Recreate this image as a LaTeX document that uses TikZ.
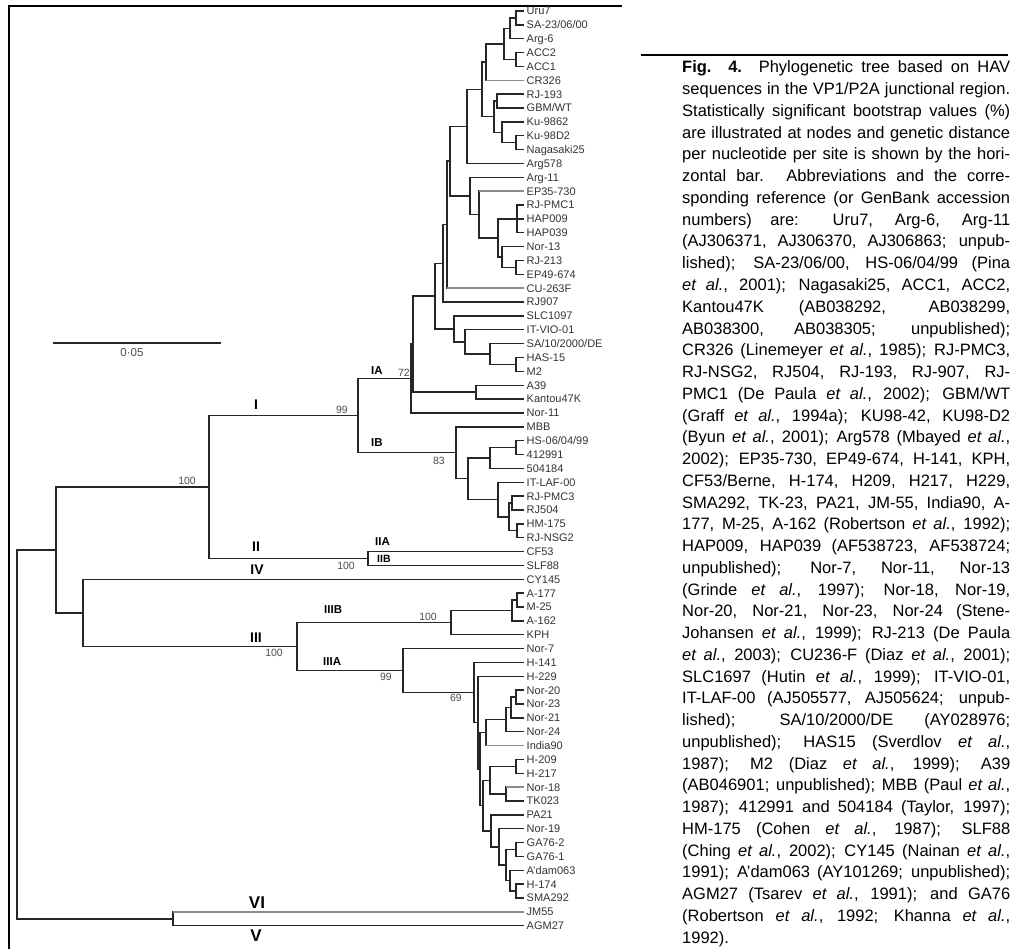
\documentclass[tikz,border=0pt]{standalone}
\usepackage{fontspec}
\setmainfont{Liberation Sans}
\usetikzlibrary{calc}

\def\dy{13.86}
\def\tipx{524}
\def\capy{73}
\def\capdy{21.75}
\def\etal{{\itshape et al.}}

%clado: nome, x, filho1, filho2
\newcommand\clado[4]{%
  \path let \p1=($(#3)!.5!(#4)$) in coordinate (#1) at (#2pt,\y1);
  \draw[ramo] (#1) |- (#3);
  \draw[ramo] (#1) |- (#4);
}

\begin{document}
\begin{tikzpicture}[x=1pt,y=-1pt,
  ramo/.style={line width=1.4pt, black!85},
  ramocinza/.style={line width=1.4pt, black!45},
  folha/.style={anchor=west, inner sep=0pt, xshift=2.5pt, text height=7.8pt, text depth=0pt,
    font=\fontsize{11}{12}\selectfont, text=black!80},
  grupo/.style={inner sep=0pt, font=\bfseries\fontsize{14}{14}\selectfont},
  grupog/.style={inner sep=0pt, font=\bfseries\fontsize{17}{17}\selectfont},
  sub/.style={inner sep=0pt, anchor=south west, font=\bfseries\fontsize{11.5}{12}\selectfont},
  boot/.style={inner sep=0pt, font=\fontsize{10.5}{11}\selectfont, text=black!70},
  legenda/.style={anchor=base west, inner sep=0pt, font=\fontsize{16.5}{18}\selectfont}]
\useasboundingbox (0,0) rectangle (1016,949);

%moldura
\draw[line width=1.2pt] (9,949) -- (9,6) -- (622,6);
\draw[line width=1.2pt] (641,55) -- (1008,55);

%folhas
\foreach \lab [count=\i] in {Uru7,SA-23/06/00,Arg-6,ACC2,ACC1,CR326,RJ-193,GBM/WT,Ku-9862,Ku-98D2,
  Nagasaki25,Arg578,Arg-11,EP35-730,RJ-PMC1,HAP009,HAP039,Nor-13,RJ-213,EP49-674,
  CU-263F,RJ907,SLC1097,IT-VIO-01,SA/10/2000/DE,HAS-15,M2,A39,Kantou47K,Nor-11,
  MBB,HS-06/04/99,412991,504184,IT-LAF-00,RJ-PMC3,RJ504,HM-175,RJ-NSG2,CF53,
  SLF88,CY145,A-177,M-25,A-162,KPH,Nor-7,H-141,H-229,Nor-20,
  Nor-23,Nor-21,Nor-24,India90,H-209,H-217,Nor-18,TK023,PA21,Nor-19,
  GA76-2,GA76-1,A'dam063,H-174,SMA292,JM55,AGM27}
{
  \coordinate (t\i) at (\tipx,{11+(\i-1)*\dy});
  \node[folha] (lab\i) at (t\i) {\lab};
}

%grupo IA
\clado{a1}{516}{t1}{t2}
\clado{a2}{510}{a1}{t3}
\clado{a3}{516}{t4}{t5}
\clado{a4}{504}{a2}{a3}
\clado{a5}{486}{a4}{t6}
\clado{a6}{497}{t7}{t8}
\clado{a7}{516}{t10}{t11}
\clado{a8}{502}{t9}{a7}
\clado{a9}{494}{a6}{a8}
\clado{a10}{482}{a5}{a9}
\clado{a11}{467}{a10}{t12}
\clado{b1}{517}{t15}{t17}
\draw[ramo] (b1) |- (t16);
\clado{b2}{516}{t19}{t20}
\clado{b3}{502}{t18}{b2}
\clado{b4}{498}{b1}{b3}
\clado{b5}{479}{t14}{b4}
\clado{b6}{470}{t13}{b5}
\clado{c1}{450}{a11}{b6}
\clado{c2}{447}{c1}{t21}
\clado{c3}{443}{c2}{t22}
\clado{d1}{516}{t26}{t27}
\clado{d2}{490}{t25}{d1}
\clado{d3}{465}{t24}{d2}
\clado{d4}{454}{t23}{d3}
\clado{c4}{435}{c3}{d4}
\clado{e1}{476}{t28}{t29}
\clado{c5}{413}{c4}{e1}
\clado{IA}{411}{c5}{t30}

%grupo IB
\clado{ib1}{516}{t32}{t33}
\clado{ib2}{490}{ib1}{t34}
\clado{ib3}{512}{t36}{t37}
\clado{ib4}{517}{t38}{t39}
\clado{ib5}{509}{ib3}{ib4}
\clado{ib6}{498}{t35}{ib5}
\clado{ib7}{468}{ib2}{ib6}
\clado{IB}{456}{t31}{ib7}
\clado{I}{358}{IA}{IB}
\clado{IIn}{368}{t40}{t41}
\clado{I2}{209}{I}{IIn}

%grupo III
\clado{g1}{517}{t43}{t44}
\clado{g2}{512}{g1}{t45}
\clado{IIIB}{451}{g2}{t46}
\clado{h1}{516}{t50}{t51}
\clado{h2}{511}{h1}{t52}
\clado{h3}{506}{h2}{t53}
\clado{h4}{486}{h3}{t54}
\clado{h5}{516}{t55}{t56}
\clado{h6}{506}{t57}{t58}
\clado{h7}{490}{h5}{h6}
\clado{h8}{516}{t61}{t62}
\clado{h9}{516}{t64}{t65}
\clado{h10}{510}{t63}{h9}
\clado{h11}{506}{h8}{h10}
\clado{h12}{499}{t60}{h11}
\clado{h13}{491}{t59}{h12}
\clado{h14}{483}{h7}{h13}
\clado{h15}{480}{h4}{h14}
\clado{h16}{478}{t49}{h15}
\clado{h17}{474}{t48}{h16}
\clado{IIIA}{403}{t47}{h17}
\clado{III}{297}{IIIB}{IIIA}

%raiz
\clado{IV3}{83}{t42}{III}
\clado{A}{56}{I2}{IV3}
\clado{VV}{173}{t66}{t67}
\clado{root}{17}{A}{VV}

%ramos cinza
\foreach \g/\p in {6/a5,14/b5,21/c2,54/h4,57/h6,66/VV}
  \draw[ramocinza] (\p |- t\g) -- (t\g);

%genotipos
\node[grupo, above=6pt] (lI) at (256,0 |- I) {I};
\node[grupo, above=7pt] (lII) at (256,0 |- IIn) {II};
\node[grupo, above=5pt] (lIV) at (257,0 |- t42) {IV};
\node[grupo, above=3.5pt] (lIII) at (256,0 |- III) {III};
\node[grupog, above=3pt] (lVI) at (257,0 |- t66) {VI};
\node[grupog, below=3.5pt] (lV) at (256,0 |- t67) {V};
\node[sub, xshift=13pt, yshift=4pt] (lIA) at (I |- IA) {IA};
\node[sub, xshift=13pt, yshift=6pt] (lIB) at (I |- IB) {IB};
\node[sub, xshift=7pt, yshift=6pt] (lIIA) at (IIn |- t40) {IIA};
\node[sub, anchor=west, xshift=9pt, font=\bfseries\fontsize{10.5}{11}\selectfont] (lIIB) at (IIn) {IIB};
\node[sub, xshift=27pt, yshift=9pt] (lIIIB) at (III |- IIIB) {IIIB};
\node[sub, xshift=26pt, yshift=5pt] (lIIIA) at (III |- IIIA) {IIIA};

%bootstrap
\node[boot, anchor=south east, xshift=-10pt, yshift=2pt] (bs1) at (I) {99};
\node[boot, anchor=south east, xshift=-13pt, yshift=2pt] (bs2) at (I2) {100};
\node[boot, anchor=south east, xshift=-1pt, yshift=1.5pt] (bs3) at (IA) {72};
\node[boot, anchor=north east, xshift=-11pt, yshift=-4pt] (bs4) at (IB) {83};
\node[boot, anchor=north east, xshift=-13pt, yshift=-3.5pt] (bs5) at (IIn) {100};
\node[boot, anchor=north east, xshift=-14pt, yshift=-2.5pt] (bs6) at (III) {100};
\node[boot, anchor=south east, xshift=-14pt, yshift=1.5pt] (bs7) at (IIIB) {100};
\node[boot, anchor=north east, xshift=-11pt, yshift=-2.5pt] (bs8) at (IIIA) {99};
\node[boot, anchor=north east, xshift=-12pt, yshift=-1.5pt] (bs9) at (h17) {69};

%escala
\coordinate (esc1) at (53,343);
\coordinate (esc2) at (221,343);
\draw[ramo] (esc1) -- (esc2);
\node[boot, below=5pt, xshift=-5pt, font=\fontsize{11.5}{12}\selectfont] (esclab) at ($(esc1)!.5!(esc2)$) {0·05};

%legenda
\foreach \ln [count=\n] in {{\textbf{Fig. 4.} Phylogenetic tree based on HAV},
  {sequences in the VP1/P2A junctional region.},
  {Statistically significant bootstrap values (\%)},
  {are illustrated at nodes and genetic distance},
  {per nucleotide per site is shown by the hori-},
  {zontal bar. Abbreviations and the corre-},
  {sponding reference (or GenBank accession},
  {numbers) are: Uru7, Arg-6, Arg-11},
  {(AJ306371, AJ306370, AJ306863; unpub-},
  {lished); SA-23/06/00, HS-06/04/99 (Pina},
  {\etal, 2001); Nagasaki25, ACC1, ACC2,},
  {Kantou47K (AB038292, AB038299,},
  {AB038300, AB038305; unpublished);},
  {CR326 (Linemeyer \etal, 1985); RJ-PMC3,},
  {RJ-NSG2, RJ504, RJ-193, RJ-907, RJ-},
  {PMC1 (De Paula \etal, 2002); GBM/WT},
  {(Graff \etal, 1994a); KU98-42, KU98-D2},
  {(Byun \etal, 2001); Arg578 (Mbayed \etal,},
  {2002); EP35-730, EP49-674, H-141, KPH,},
  {CF53/Berne, H-174, H209, H217, H229,},
  {SMA292, TK-23, PA21, JM-55, India90, A-},
  {177, M-25, A-162 (Robertson \etal, 1992);},
  {HAP009, HAP039 (AF538723, AF538724;},
  {unpublished); Nor-7, Nor-11, Nor-13},
  {(Grinde \etal, 1997); Nor-18, Nor-19,},
  {Nor-20, Nor-21, Nor-23, Nor-24 (Stene-},
  {Johansen \etal, 1999); RJ-213 (De Paula},
  {\etal, 2003); CU236-F (Diaz \etal, 2001);},
  {SLC1697 (Hutin \etal, 1999); IT-VIO-01,},
  {IT-LAF-00 (AJ505577, AJ505624; unpub-},
  {lished); SA/10/2000/DE (AY028976;},
  {unpublished); HAS15 (Sverdlov \etal,},
  {1987); M2 (Diaz \etal, 1999); A39},
  {(AB046901; unpublished); MBB (Paul \etal,},
  {1987); 412991 and 504184 (Taylor, 1997);},
  {HM-175 (Cohen \etal, 1987); SLF88},
  {(Ching \etal, 2002); CY145 (Nainan \etal,},
  {1991); A'dam063 (AY101269; unpublished);},
  {AGM27 (Tsarev \etal, 1991); and GA76},
  {(Robertson \etal, 1992; Khanna \etal,}}
  \node[legenda] (leg\n) at (682,{\capy+(\n-1)*\capdy}) {\makebox[328pt][s]{\ln}};
\node[legenda] (leg41) at (682,{\capy+40*\capdy}) {1992).};

\end{tikzpicture}
\end{document}
